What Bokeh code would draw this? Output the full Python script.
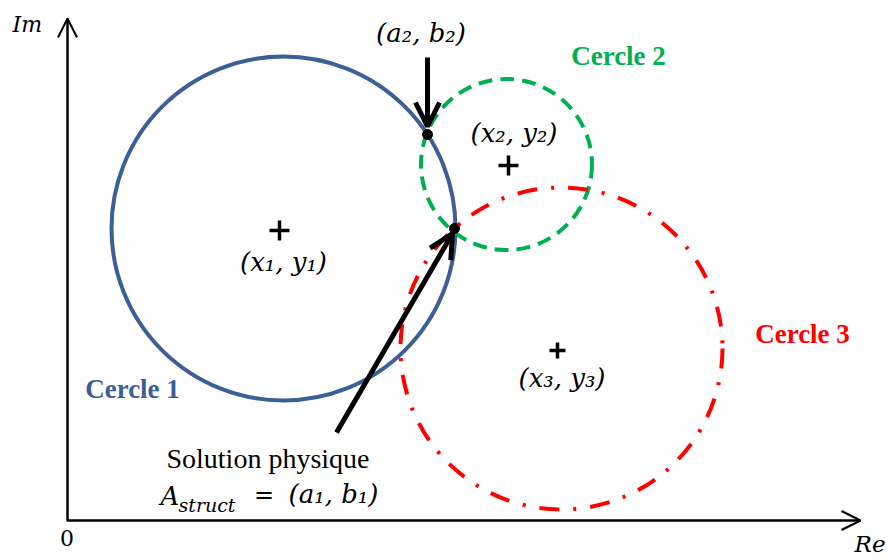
from bokeh.plotting import figure
from bokeh.models import Range1d, Arrow, OpenHead, ColumnDataSource
from bokeh.embed import file_html
from bokeh.resources import INLINE
from bokeh.core.properties import value

# ---------------- data (schematic units, origin = axes corner) ----------------
circle_labels = ["Cercle 1", "Cercle 2", "Cercle 3"]
circle_cx = [21.6, 43.9, 49.4]
circle_cy = [29.2, 35.6, 17.2]
circle_r = [17.2, 8.55, 16.1]

center_labels = ["(x₁, y₁)", "(x₂, y₂)", "(x₃, y₃)"]
cross_x = [21.2, 44.1, 49.0]
cross_y = [29.0, 35.5, 17.0]

point_labels = ["(a₁, b₁)", "(a₂, b₂)"]
point_x = [38.7, 36.0]
point_y = [29.2, 38.6]

arrow_x0 = [26.9, 36.0]
arrow_y0 = [8.8, 46.3]
arrow_x1 = [38.5, 36.0]
arrow_y1 = [28.7, 39.4]

axis_end_x = 79.3
axis_end_y = 50.2
axis_names = ["Re", "Im", "0"]
solution_text = "Solution physique"

# ---------------- styles ----------------
circle_colors = ["#3b5f96", "#00b050", "#ff0000"]
circle_dashes = ["solid", "14 8", "20 14 3 14"]
cross_sizes = [20, 20, 16]

SERIF = value("Liberation Serif")
MATH = value("DejaVu Serif")

p = figure(width=887, height=560, title=None,
           x_range=Range1d(-6.7, 82.0), y_range=Range1d(-4.0, 52.0),
           output_backend="svg", toolbar_location=None, min_border=0,
           x_axis_location=None, y_axis_location=None,
           background_fill_color="white", border_fill_color="white")
p.grid.visible = False
p.outline_line_color = None

# axes
p.line([0, 0, axis_end_x], [axis_end_y, 0, 0], line_color="black", line_width=2,
       line_join="miter")
p.add_layout(Arrow(x_start=0, y_start=0, x_end=axis_end_x, y_end=0, line_width=2,
                   line_color="black",
                   end=OpenHead(size=19, line_width=2, line_color="black")))
p.add_layout(Arrow(x_start=0, y_start=0, x_end=0, y_end=axis_end_y, line_width=2,
                   line_color="black",
                   end=OpenHead(size=19, line_width=2, line_color="black")))

# circles
for i in range(3):
    p.circle(x=[circle_cx[i]], y=[circle_cy[i]], radius=circle_r[i],
             fill_color=None, line_color=circle_colors[i], line_width=4,
             line_dash=circle_dashes[i])

# centre crosses
p.scatter(x=cross_x, y=cross_y, size=cross_sizes, marker="cross",
          line_color="black", line_width=3.5)

# intersection points
p.scatter(x=point_x, y=point_y, size=10, color="black")

# arrows to the points
asrc = ColumnDataSource(dict(x0=arrow_x0, y0=arrow_y0, x1=arrow_x1, y1=arrow_y1))
p.add_layout(Arrow(source=asrc, x_start="x0", y_start="y0", x_end="x1", y_end="y1",
                   line_width=5, line_color="black",
                   end=OpenHead(size=24, line_width=5, line_color="black")))


def txt(x, y, s, font, size, style="normal", color="black", align="center"):
    # y is the intended baseline; lift to compensate the renderer's baseline shift
    p.text(x=[x], y=[y + 0.036 * size], text=[s], text_font=font,
           text_font_size=f"{size}px", text_font_style=style, text_color=color,
           text_align=align, text_baseline="alphabetic")


# circle names
txt(6.5, 12.2, circle_labels[0], SERIF, 27, "bold", circle_colors[0])
txt(55.1, 45.5, circle_labels[1], SERIF, 27, "bold", circle_colors[1])
txt(73.5, 17.7, circle_labels[2], SERIF, 27, "bold", circle_colors[2])

# centre labels
txt(21.6, 24.9, center_labels[0], MATH, 26, "italic")
txt(44.65, 37.8, center_labels[1], MATH, 26, "italic")
txt(49.45, 13.3, center_labels[2], MATH, 26, "italic")

# point labels
txt(35.35, 47.8, point_labels[1], MATH, 26, "italic")
txt(20.05, 5.2, solution_text, SERIF, 28)
txt(9.3, 1.5, "A", MATH, 26, "italic", align="left")
txt(11.1, 0.9, "struct", MATH, 19, "italic", align="left")
txt(19.65, 1.7, "=", MATH, 24)
txt(26.6, 1.7, point_labels[0], MATH, 26, "italic")

# axis names
txt(81.8, -3.2, axis_names[0], MATH, 23, "italic", align="right")
txt(-5.5, 48.8, axis_names[1], MATH, 22, "italic", align="left")
txt(-0.05, -2.5, axis_names[2], MATH, 22)

open("out.html", "w").write(file_html(p, INLINE))
